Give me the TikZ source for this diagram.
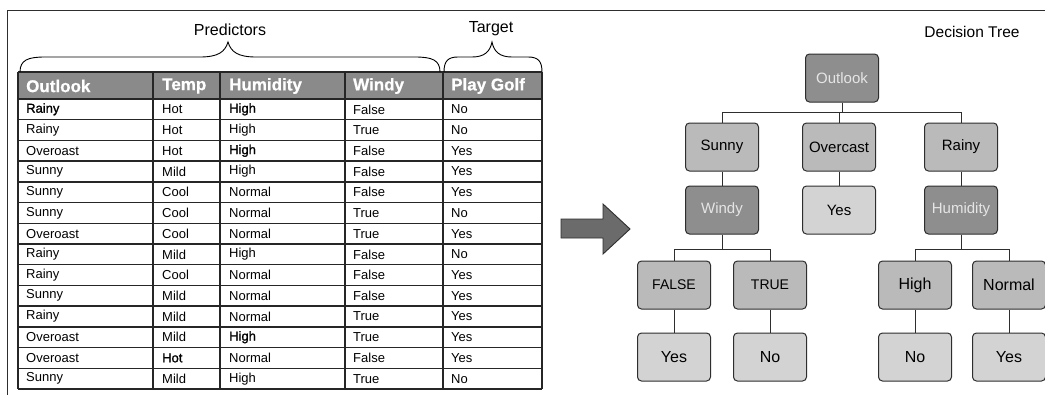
\documentclass[tikz,border=0pt]{standalone}
\usepackage{fontspec}
\setmainfont{Liberation Sans}
\newfontfamily\heavy[FakeBold=1.3]{Liberation Sans}
\newfontfamily\headfont[FakeBold=0.8]{Liberation Sans Bold}
\usetikzlibrary{calc}

\definecolor{hdrgray}{HTML}{8A8A8A}
\definecolor{darknode}{HTML}{8E8E8E}
\definecolor{midnode}{HTML}{BABABA}
\definecolor{lightnode}{HTML}{D3D3D3}
\definecolor{arrowgray}{HTML}{6B6B6B}
\definecolor{linegray}{HTML}{2E2E2E}

\tikzset{
  frame/.style={draw=linegray, line width=1pt},
  gridline/.style={draw=black!85, line width=1.4pt},
  cell/.style={anchor=west, inner sep=0pt, font=\fontsize{13}{15}\selectfont},
  headcell/.style={anchor=west, inner sep=0pt, text=white, font=\fontsize{17}{19}\headfont},
  bracelbl/.style={inner sep=0pt, font=\fontsize{16}{18}\selectfont},
  brace/.style={draw=black, line width=0.9pt},
  treebox/.style={draw=linegray, line width=1pt, rounded corners=4pt,
                  minimum width=73pt, minimum height=48pt, inner sep=0pt,
                  font=\fontsize{15}{17}\selectfont},
  decnode/.style={treebox, fill=darknode, text=white!90!black},
  valnode/.style={treebox, fill=midnode},
  leafnode/.style={treebox, fill=lightnode},
  edge/.style={draw=linegray, line width=0.9pt},
  bigarrow/.style={fill=arrowgray, draw=linegray, line width=0.9pt}
}

\begin{document}
\begin{tikzpicture}[x=1pt,y=-1pt]
\useasboundingbox (0,0) rectangle (1045,394);

% outer frame (top and left edges)
\draw[frame] (1046,10) -- (7,10) -- (7,395);

% ---------- data table ----------
\def\rh{20.714}
\fill[hdrgray] (18,72) rectangle (542,99);
\foreach \k in {0,...,14}
  \draw[gridline] (18,{99+\k*\rh}) -- (542,{99+\k*\rh});
\draw[gridline] (18,72) -- (542,72);
\foreach \xx in {18,153,220,345,443,542}
  \draw[gridline] (\xx,72) -- (\xx,389);

% header
\node[headcell] (h1) at (26,86) {Outlook};
\node[headcell] (h2) at (162,86) {Temp};
\node[headcell] (h3) at (229,86) {Humidity};
\node[headcell] (h4) at (353,86) {Windy};
\node[headcell] (h5) at (451,86) {Play Golf};

% rows
\foreach [count=\i] \a/\b/\c/\d/\e in {
  {\heavy Rainy}/Hot/{\heavy High}/False/No,
  Rainy/Hot/High/True/No,
  Overoast/Hot/{\heavy High}/False/Yes,
  Sunny/Mild/High/False/Yes,
  Sunny/Cool/Normal/False/Yes,
  Sunny/Cool/Normal/True/No,
  Overoast/Cool/Normal/True/Yes,
  Rainy/Mild/High/False/No,
  Rainy/Cool/Normal/False/Yes,
  Sunny/Mild/Normal/False/Yes,
  Rainy/Mild/Normal/True/Yes,
  Overoast/Mild/{\heavy High}/True/Yes,
  Overoast/{\heavy Hot}/Normal/False/Yes,
  Sunny/Mild/High/True/No}
{
  \pgfmathsetmacro\yy{99+(\i-0.5)*\rh}
  \node[cell] (r\i-1) at (26,\yy) {\a};
  \node[cell] (r\i-2) at (162,\yy) {\b};
  \node[cell] (r\i-3) at (229,\yy) {\c};
  \node[cell] (r\i-4) at (353,\yy) {\d};
  \node[cell] (r\i-5) at (451,\yy) {\e};
}

% ---------- braces above the table ----------
\draw[brace] (20,72) .. controls (20,60) and (28,57) .. (45,57)
  -- (200,57) .. controls (218,57) and (225,52) .. (228,42)
  .. controls (231,52) and (238,57) .. (256,57)
  -- (415,57) .. controls (432,57) and (440,60) .. (440,72);
\node[bracelbl] (pred) at (230,30) {Predictors};

\draw[brace] (444,72) .. controls (444,61) and (448,57) .. (458,57)
  -- (472,57) .. controls (484,57) and (490,52) .. (492,42)
  .. controls (494,52) and (500,57) .. (512,57)
  -- (528,57) .. controls (538,57) and (542,61) .. (542,72);
\node[bracelbl] (targ) at (491,29) {Target};

% ---------- block arrow ----------
\draw[bigarrow] (561,219) -- (603,219) -- (603,204) -- (630,229)
  -- (603,254) -- (603,238) -- (561,238) -- cycle;

% ---------- decision tree ----------
\node[bracelbl, font=\fontsize{15.5}{18}\selectfont] (title) at (972,32) {Decision Tree};

\node[decnode]  (outlook)  at (842,78)  {Outlook};
\node[valnode]  (sunny)    at (722,147) {Sunny};
\node[valnode]  (overcast) at (839,147) {Overcast};
\node[valnode]  (rainy)    at (961,147) {Rainy};
\node[decnode]  (windy)    at (722,210) {Windy};
\node[leafnode] (yesA)     at (839,210) {Yes};
\node[decnode]  (humid)    at (961,210) {Humidity};
\node[valnode, font=\fontsize{14}{16}\selectfont]  (false)  at (674,285) {FALSE};
\node[valnode, font=\fontsize{14}{16}\selectfont]  (true)   at (770,285) {TRUE};
\node[valnode, font=\fontsize{16}{18}\selectfont]  (high)   at (915,285) {High};
\node[valnode, font=\fontsize{16}{18}\selectfont]  (normal) at (1009,285) {Normal};
\node[leafnode, font=\fontsize{16}{18}\selectfont] (yesB)   at (674,357) {Yes};
\node[leafnode, font=\fontsize{16}{18}\selectfont] (noB)    at (770,357) {No};
\node[leafnode, font=\fontsize{16}{18}\selectfont] (noC)    at (915,357) {No};
\node[leafnode, font=\fontsize{16}{18}\selectfont] (yesC)   at (1009,357) {Yes};

% orthogonal connectors
\draw[edge] (outlook.south) -- ++(0,10) -| (sunny.north);
\draw[edge] (outlook.south) -- ++(0,10) -| (overcast.north);
\draw[edge] (outlook.south) -- ++(0,10) -| (rainy.north);
\draw[edge] (sunny) -- (windy);
\draw[edge] (overcast) -- (yesA);
\draw[edge] (rainy) -- (humid);
\draw[edge] (windy.south) -- ++(0,15) -| (false.north);
\draw[edge] (windy.south) -- ++(0,15) -| (true.north);
\draw[edge] (humid.south) -- ++(0,15) -| (high.north);
\draw[edge] (humid.south) -- ++(0,15) -| (normal.north);
\draw[edge] (false) -- (yesB);
\draw[edge] (true) -- (noB);
\draw[edge] (high) -- (noC);
\draw[edge] (normal) -- (yesC);
\end{tikzpicture}
\end{document}
